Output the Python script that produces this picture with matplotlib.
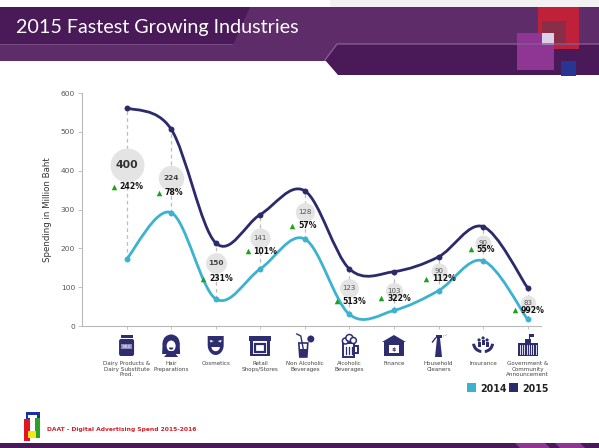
import numpy as np
import matplotlib
matplotlib.use("Agg")
import matplotlib.pyplot as plt
from matplotlib.path import Path
from matplotlib.patches import PathPatch, Rectangle, Polygon, Circle, Ellipse, FancyBboxPatch, Wedge

# ---------------- data ----------------
categories = ["Dairy Products &\nDairy Substitute\nProd.", "Hair\nPreparations", "Cosmetics",
              "Retail\nShops/Stores", "Non Alcoholic\nBeverages", "Alcoholic\nBeverages",
              "Finance", "Household\nCleaners", "Insurance", "Government &\nCommunity\nAnnouncement"]
spend_2014 = [172, 292, 70, 147, 224, 30, 40, 91, 168, 17]
spend_2015 = [562, 507, 214, 287, 348, 147, 140, 178, 256, 98]
growth_values = [400, 224, 150, 141, 128, 123, 103, 90, 90, 83]
growth_pct = ["242%", "78%", "231%", "101%", "57%", "513%", "322%", "112%", "55%", "992%"]
y_ticks = [0, 100, 200, 300, 400, 500, 600]
series_names = ["2014", "2015"]

# label anchor heights (annotation layout)
bubble_y = [415, 382, 161, 227, 293, 98, 91, 142, 215, 60]
pct_y = [359, 343, 122, 193, 258, 64, 72, 122, 197, 40]

C14 = "#3bb3d0"
C15 = "#2b2a6b"
NAVY = "#2e2d70"
W, H = 599, 448

fig = plt.figure(figsize=(W / 100, H / 100), dpi=100)
fig.patch.set_facecolor("white")

# background / decoration axes in pixel coordinates (y down)
bg = fig.add_axes([0, 0, 1, 1])
bg.set_xlim(0, W)
bg.set_ylim(H, 0)
bg.axis("off")
bg.set_zorder(0)

# top light gray strip
bg.add_patch(Rectangle((330, 0), W - 330, 8, color="#f2f2f2", lw=0))
# purple band
bg.add_patch(Rectangle((0, 7), W, 54, color="#5e2c69", lw=0))
# dark title box with diagonal edge
bg.add_patch(Polygon([(0, 7), (250, 7), (233, 45), (0, 45)], closed=True, color="#4a1a58", lw=0))
bg.add_patch(Rectangle((0, 44.5), 233, 1, color="#7a4a86", lw=0))
# dark chevron box on right
bg.add_patch(Polygon([(337, 44), (W, 44), (W, 75), (338, 75), (325, 60)], closed=True,
                     color="#4a1a58", lw=0))
bg.add_line(plt.Line2D([325, 337, W], [60, 44, 44], color="#8a5a96", lw=1))
# coloured squares
bg.add_patch(Rectangle((538, 7), 41, 42, color="#c0213a", lw=0))
bg.add_patch(Rectangle((542, 21), 24, 24, color="#8a2e48", lw=0))
bg.add_patch(Rectangle((517, 33), 37, 37, color="#8f3594", lw=0))
bg.add_patch(Rectangle((542, 33), 12, 12, color="#dcd2e8", lw=0))
bg.add_patch(Rectangle((561, 61), 15, 15, color="#283593", lw=0))
bg.text(16, 27, "2015 Fastest Growing Industries", color="white", fontsize=14.2,
        family="Lato", va="center", ha="left")

# bottom band
bg.add_patch(Rectangle((0, 443), W, 5, color="#4a1a58", lw=0))
bg.add_patch(Polygon([(515, 443), (545, 443), (550, 448), (520, 448)], color="#8f3594", lw=0))
bg.add_patch(Polygon([(555, 443), (580, 443), (585, 448), (560, 448)], color="#8f3594", lw=0))

# DAAT logo
bg.add_patch(Rectangle((26, 412), 14, 14, color="#1c2fa8", lw=0))
bg.add_patch(Rectangle((34, 418), 6, 20, color="#2aa22a", lw=0))
bg.add_patch(Rectangle((24, 419), 6, 22, color="#e3161f", lw=0))
bg.add_patch(Rectangle((28, 431), 8, 7, color="#f5e615", lw=0))
bg.add_patch(Rectangle((30, 417), 5, 14, color="white", lw=0))
bg.add_patch(Rectangle((28, 415), 9, 3, color="white", lw=0))
bg.text(47, 430, "DAAT - Digital Advertising Spend 2015-2016", color="#d0202a",
        fontsize=4.3, fontweight="bold", va="center", ha="left")

# ---------------- main chart ----------------
ax = fig.add_axes([82 / W, 122 / H, 459 / W, 233 / H])
ax.set_zorder(2)
ax.patch.set_alpha(0)
n = len(categories)
x = np.arange(n)
ax.set_xlim(-1.0, 9.3)
ax.set_ylim(0, 600)
for s in ["top", "right"]:
    ax.spines[s].set_visible(False)
for s in ["left", "bottom"]:
    ax.spines[s].set_color("#b8b8b8")
    ax.spines[s].set_linewidth(0.8)
ax.set_yticks(y_ticks)
ax.set_yticklabels([str(v) for v in y_ticks], fontsize=5.4, color="#555555")
ax.set_xticks(x)
ax.set_xticklabels([])
ax.tick_params(axis="y", length=3, width=0.6, color="#b8b8b8", pad=2)
ax.tick_params(axis="x", length=2, width=0.6, color="#b8b8b8")
ax.set_ylabel("Spending in Million Baht", fontsize=6.2, color="#333333", labelpad=6)


def smooth_path(xs, ys):
    P = np.column_stack([xs, ys]).astype(float)
    Pext = np.vstack([P[0], P, P[-1]])
    verts = [tuple(P[0])]
    codes = [Path.MOVETO]
    for i in range(len(P) - 1):
        p0, p1, p2, p3 = Pext[i], Pext[i + 1], Pext[i + 2], Pext[i + 3]
        c1 = p1 + (p2 - p0) / 6.0
        c2 = p2 - (p3 - p1) / 6.0
        verts += [tuple(c1), tuple(c2), tuple(p2)]
        codes += [Path.CURVE4] * 3
    return Path(verts, codes)


# dashed connectors
for i in range(n):
    ax.plot([x[i], x[i]], [spend_2014[i], spend_2015[i]], ls=(0, (3, 2.5)), color="#bdbdbd",
            lw=0.9, zorder=1)

for vals, col in [(spend_2014, C14), (spend_2015, C15)]:
    ax.add_patch(PathPatch(smooth_path(x, vals), fill=False, edgecolor=col, lw=2.0, zorder=2,
                           capstyle="round"))
    ax.scatter(x, vals, s=18, color=col, zorder=3, linewidths=0)

# bubbles
for i in range(n):
    r = 17 * np.sqrt(growth_values[i] / 400.0)
    ax.scatter([x[i]], [bubble_y[i]], s=(2 * r * 0.72) ** 2, color="#e4e4e4", zorder=4,
               linewidths=0)
    if growth_values[i] >= 400:
        fs, fw, fc = 7.8, "bold", "#333333"
    elif growth_values[i] >= 150:
        fs, fw, fc = 5.3, "bold", "#444444"
    else:
        fs, fw, fc = 5.0, "normal", "#555555"
    ax.text(x[i], bubble_y[i], str(growth_values[i]), ha="center", va="center",
            fontsize=fs, fontweight=fw, color=fc, zorder=5)
    ax.scatter([x[i] - 12.5 / 44.56], [pct_y[i]], marker="^", s=16, color="#1aa31a",
               zorder=5, linewidths=0)
    ax.annotate(growth_pct[i], xy=(x[i], pct_y[i]), xytext=(-4.9, 0), textcoords="offset points",
                ha="left", va="center", fontsize=5.6, fontweight="bold", color="#111111",
                zorder=5)

# category labels
for i in range(n):
    ax.text(x[i], -0.152, categories[i], transform=ax.get_xaxis_transform(), ha="center",
            va="top", fontsize=4.1, color="#444444", linespacing=1.1)

# legend
leg_y = 388
for (lx, col, name) in [(467, C14, series_names[0]), (509, C15, series_names[1])]:
    bg.add_patch(Rectangle((lx, leg_y - 4.5), 9, 9, color=col, lw=0))
    bg.text(lx + 13.5, leg_y + 0.5, name, fontsize=7.6, fontweight="bold", color="#222222",
            family="DejaVu Sans", fontstretch="condensed", va="center", ha="left")

# ---------------- icons (pixel coords) ----------------
fig.canvas.draw()


def px_of(i):
    d = ax.transData.transform((i, 0))
    return d[0]


CY = 346


def icon_milk(cx, cy):
    bg.add_patch(FancyBboxPatch((cx - 7.5, cy - 7), 15, 17, boxstyle="round,pad=0,rounding_size=2",
                                color=NAVY, lw=0))
    bg.add_patch(Rectangle((cx - 6, cy - 11), 12, 3, color=NAVY, lw=0))
    bg.add_patch(Rectangle((cx - 5.5, cy - 1.5), 11, 5, color="#8d8cb8", lw=0))
    bg.text(cx, cy + 1, "MILK", fontsize=2.6, color="white", ha="center", va="center")


def icon_hair(cx, cy):
    bg.add_patch(Ellipse((cx, cy - 3), 17, 17, color=NAVY, lw=0))
    bg.add_patch(Polygon([(cx - 8.5, cy - 3), (cx + 8.5, cy - 3), (cx + 9, cy + 8), (cx - 9, cy + 8)],
                         color=NAVY, lw=0))
    bg.add_patch(Ellipse((cx, cy), 9, 11, color="white", lw=0))
    bg.add_patch(Wedge((cx, cy + 1.5), 2.2, 0, 180, color=NAVY, lw=0))
    bg.add_patch(Polygon([(cx - 2, cy + 5), (cx + 2, cy + 5), (cx + 7, cy + 11), (cx - 7, cy + 11)],
                         color=NAVY, lw=0))


def icon_mask(cx, cy):
    t = np.linspace(0, np.pi, 30)
    xs = cx + 8 * np.cos(t)
    ys = cy - 1 + 10 * np.sin(t)
    pts = [(cx - 8, cy - 10), (cx + 8, cy - 10)] + list(zip(xs, ys))
    bg.add_patch(Polygon(pts, color=NAVY, lw=0))
    bg.add_patch(Polygon([(cx - 6, cy - 6), (cx - 2, cy - 5), (cx - 5, cy - 3.5)], color="white", lw=0))
    bg.add_patch(Polygon([(cx + 6, cy - 6), (cx + 2, cy - 5), (cx + 5, cy - 3.5)], color="white", lw=0))
    bg.add_patch(Wedge((cx, cy + 1), 4.2, 0, 180, color="white", lw=0))


def icon_shop(cx, cy):
    bg.add_patch(Rectangle((cx - 11, cy - 10), 22, 5, color=NAVY, lw=0))
    bg.add_patch(Rectangle((cx - 10, cy - 5), 3, 15, color=NAVY, lw=0))
    bg.add_patch(Rectangle((cx + 7, cy - 5), 3, 15, color=NAVY, lw=0))
    bg.add_patch(Rectangle((cx - 5, cy - 2), 10, 8, fill=False, edgecolor=NAVY, lw=1.6))
    bg.add_patch(Rectangle((cx - 10, cy + 8), 20, 2, color=NAVY, lw=0))


def icon_glass(cx, cy):
    bg.add_patch(Polygon([(cx - 6, cy - 3), (cx + 3, cy - 3), (cx + 2, cy + 11), (cx - 5, cy + 11)],
                         closed=True, fill=False, edgecolor=NAVY, lw=1.2))
    bg.add_patch(Polygon([(cx - 5.6, cy + 3), (cx + 2.6, cy + 3), (cx + 2, cy + 11), (cx - 5, cy + 11)],
                         color=NAVY, lw=0))
    bg.add_line(plt.Line2D([cx - 1, cx - 4, cx - 8], [cy + 6, cy - 10, cy - 12], color=NAVY, lw=1))
    bg.add_patch(Circle((cx + 6, cy - 7), 3.5, color=NAVY, lw=0))


def icon_mug(cx, cy):
    bg.add_patch(Rectangle((cx - 6, cy - 3), 11, 14, facecolor="white", edgecolor=NAVY, lw=1.4))
    bg.add_patch(Rectangle((cx + 5, cy), 4, 7, fill=False, edgecolor=NAVY, lw=1.4))
    for dx in (-3, 0, 3):
        bg.add_line(plt.Line2D([cx - 0.5 + dx, cx - 0.5 + dx], [cy + 1, cy + 8], color=NAVY, lw=0.9))
    for (fx, fy, fr) in [(cx - 4, cy - 5, 3), (cx, cy - 8, 3.5), (cx + 4, cy - 5.5, 3)]:
        bg.add_patch(Circle((fx, fy), fr, facecolor="white", edgecolor=NAVY, lw=1.1))


def icon_bank(cx, cy):
    bg.add_patch(Polygon([(cx - 12, cy - 4), (cx, cy - 11), (cx + 12, cy - 4)], color=NAVY, lw=0))
    bg.add_patch(Rectangle((cx - 10, cy - 4), 20, 14, color=NAVY, lw=0))
    bg.add_patch(Rectangle((cx - 5, cy - 1), 10, 8, color="white", lw=0))
    bg.text(cx, cy + 3, "$", fontsize=4.5, color=NAVY, ha="center", va="center", fontweight="bold")


def icon_spray(cx, cy):
    bg.add_patch(Rectangle((cx - 3, cy - 11), 6, 3, color=NAVY, lw=0))
    bg.add_patch(Polygon([(cx - 1.5, cy - 8), (cx + 1.5, cy - 8), (cx + 3.5, cy + 11), (cx - 3.5, cy + 11)],
                         color=NAVY, lw=0))
    bg.add_line(plt.Line2D([cx - 3, cx - 6], [cy - 8, cy - 4], color=NAVY, lw=1))
    for k in range(3):
        bg.add_patch(Circle((cx + 5 + k * 1.6, cy - 10 - k * 0.6), 0.5, color="#8d8cb8", lw=0))


def icon_insurance(cx, cy):
    bg.add_patch(Wedge((cx - 1, cy - 3), 10, 95, 175, width=3, color=NAVY, lw=0))
    bg.add_patch(Wedge((cx + 1, cy - 3), 10, 5, 85, width=3, color=NAVY, lw=0))
    for (px, py) in [(cx - 4, cy - 6), (cx, cy - 8), (cx + 4, cy - 6)]:
        bg.add_patch(Circle((px, py), 1.6, color=NAVY, lw=0))
        bg.add_patch(Rectangle((px - 1.5, py + 2), 3, 5, color=NAVY, lw=0))


def icon_gov(cx, cy):
    bg.add_patch(Rectangle((cx - 10, cy - 3), 20, 13, color=NAVY, lw=0))
    for k in range(8):
        bg.add_line(plt.Line2D([cx - 8 + k * 2.3, cx - 8 + k * 2.3], [cy - 1, cy + 8], color="white", lw=0.6))
    bg.add_patch(Rectangle((cx - 3, cy - 7), 6, 4, color=NAVY, lw=0))
    bg.add_line(plt.Line2D([cx + 1, cx + 1], [cy - 7, cy - 12], color=NAVY, lw=0.8))
    bg.add_patch(Rectangle((cx + 1, cy - 12), 5, 3, color=NAVY, lw=0))


icons = [icon_milk, icon_hair, icon_mask, icon_shop, icon_glass, icon_mug, icon_bank,
         icon_spray, icon_insurance, icon_gov]
for i, fn in enumerate(icons):
    fn(px_of(i), CY)

fig.savefig("out.png", dpi=100, facecolor="white")
